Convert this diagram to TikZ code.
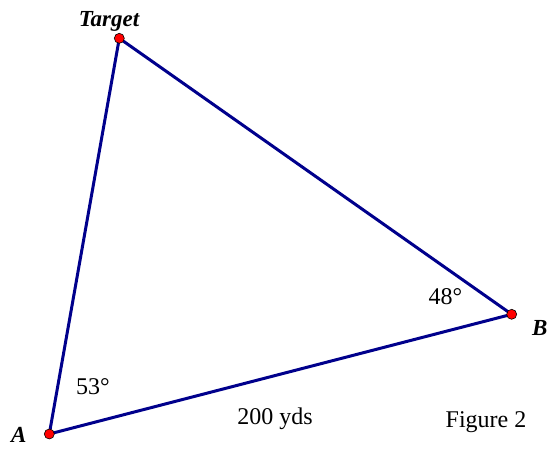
\documentclass[tikz,border=0pt]{standalone}
\usepackage{fontspec}
\setmainfont{Liberation Serif}
\definecolor{navy}{RGB}{0,0,140}
\begin{document}
\begin{tikzpicture}[x=1pt,y=-1pt,
  side/.style={draw=navy,line width=3pt},
  pt/.style={circle,fill=red,draw=black,line width=0.6pt,inner sep=0pt,minimum size=10pt},
  lbl/.style={font=\fontsize{24}{27}\selectfont,inner sep=0pt},
  vlbl/.style={font=\fontsize{23}{26}\selectfont\bfseries\itshape,inner sep=0pt}]
\useasboundingbox (0,0) rectangle (550,449);
\coordinate (A) at (49.3,434);
\coordinate (T) at (119.3,38.3);
\coordinate (B) at (511.7,314.3);
\draw[side] (A) -- (T) -- (B) -- cycle;
\node[pt] (pA) at (A) {};
\node[pt] (pT) at (T) {};
\node[pt] (pB) at (B) {};
\node[vlbl,anchor=base] (lT) at (109,27) {Target};
\node[vlbl,anchor=base west] (lB) at (532,336) {B};
\node[vlbl,anchor=base west] (lA) at (11,443) {A};
\node[lbl,anchor=base] (a53) at (93,395) {53°};
\node[lbl,anchor=base] (a48) at (445.5,305) {48°};
\node[lbl,anchor=base] (d) at (275,425) {200 yds};
\node[lbl,anchor=base] (f) at (486,428) {Figure 2};
\end{tikzpicture}
\end{document}
